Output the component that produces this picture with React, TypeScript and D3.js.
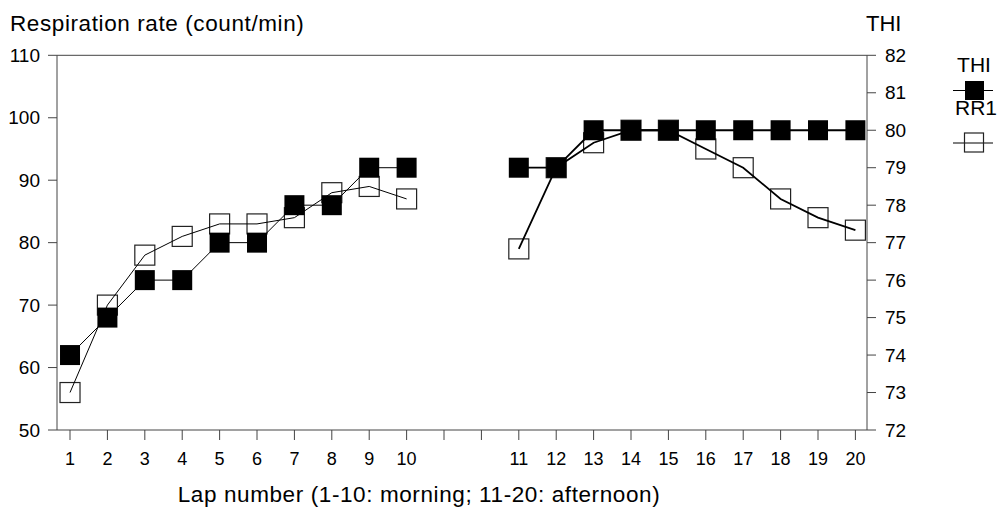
import * as d3 from "d3";

// lap numbers; the axis leaves two empty slots between 10 and 11
const morningLaps = [1, 2, 3, 4, 5, 6, 7, 8, 9, 10];
const afternoonLaps = [11, 12, 13, 14, 15, 16, 17, 18, 19, 20];
const xTickLabels = ["1", "2", "3", "4", "5", "6", "7", "8", "9", "10", "", "", "11", "12", "13", "14", "15", "16", "17", "18", "19", "20"];

// THI (right axis)
const thiMorning = [74, 75, 76, 76, 77, 77, 78, 78, 79, 79];
const thiAfternoon = [79, 79, 80, 80, 80, 80, 80, 80, 80, 80];
// respiration rate RR1 (left axis)
const rrMorning = [56, 70, 78, 81, 83, 83, 84, 88, 89, 87];
const rrAfternoon = [79, 92, 96, 98, 98, 95, 92, 87, 84, 82];

const leftTicks = [50, 60, 70, 80, 90, 100, 110];
const rightTicks = [72, 73, 74, 75, 76, 77, 78, 79, 80, 81, 82];

const font = "'Liberation Sans', Arial, sans-serif";

const App = () => {
  const width = 997;
  const height = 507;
  const left = 57, right = 867, top = 55.3, bottom = 430;

  const slot = (lap: number) => (lap <= 10 ? lap : lap + 2);
  const x = d3.scaleLinear().domain([0.652, 22.31]).range([left, right]);
  const yRR = d3.scaleLinear().domain([50, 110]).range([bottom, top]);
  const yTHI = d3.scaleLinear().domain([72, 82]).range([bottom, top]);

  const rrLine = d3.line<[number, number]>().x(d => x(slot(d[0]))).y(d => yRR(d[1]));
  const thiLine = d3.line<[number, number]>().x(d => x(slot(d[0]))).y(d => yTHI(d[1]));

  const pair = (laps: number[], vals: number[]) => laps.map((l, i) => [l, vals[i]] as [number, number]);
  const rrM = pair(morningLaps, rrMorning);
  const rrA = pair(afternoonLaps, rrAfternoon);
  const thM = pair(morningLaps, thiMorning);
  const thA = pair(afternoonLaps, thiAfternoon);

  const sq = 20;
  const axisColor = "#444";

  return (
    <svg width={width} height={height} style={{ display: "block", position: "absolute", left: 0, top: 0 }} fontFamily={font}>
      <rect width={width} height={height} fill="#fff" />

      {/* titles */}
      <text x={10} y={31} fontSize={22.5} letterSpacing={0.6}>Respiration rate (count/min)</text>
      <text x={866} y={31} fontSize={22}>THI</text>
      <text x={419} y={502} fontSize={22.5} letterSpacing={0.6} textAnchor="middle">Lap number (1-10: morning; 11-20: afternoon)</text>

      {/* frame */}
      <line x1={left} x2={right} y1={top} y2={top} stroke={axisColor} />
      <line x1={left} x2={right} y1={bottom} y2={bottom} stroke={axisColor} />
      <line x1={left} x2={left} y1={top} y2={bottom} stroke={axisColor} />
      <line x1={right} x2={right} y1={top} y2={bottom} stroke={axisColor} />

      {/* left axis */}
      {leftTicks.map(t => (
        <g key={"l" + t}>
          <line x1={left - 9} x2={left} y1={yRR(t)} y2={yRR(t)} stroke={axisColor} />
          <text x={40} y={yRR(t)} dy="0.35em" fontSize={19} textAnchor="end">{t}</text>
        </g>
      ))}

      {/* right axis */}
      {rightTicks.map(t => (
        <g key={"r" + t}>
          <line x1={right} x2={right + 9} y1={yTHI(t)} y2={yTHI(t)} stroke={axisColor} />
          <text x={885} y={yTHI(t)} dy="0.35em" fontSize={19}>{t}</text>
        </g>
      ))}

      {/* bottom axis */}
      {xTickLabels.map((lab, i) => (
        <g key={"x" + i}>
          <line x1={x(i + 1)} x2={x(i + 1)} y1={bottom} y2={bottom + 10} stroke={axisColor} />
          <text x={x(i + 1)} y={465} fontSize={18} textAnchor="middle">{lab}</text>
        </g>
      ))}

      {/* RR1 open squares */}
      {[...rrM, ...rrA].map((d, i) => (
        <rect key={"o" + i} x={x(slot(d[0])) - sq / 2} y={yRR(d[1]) - sq / 2} width={sq} height={sq}
          fill="none" stroke="#222" strokeWidth={1.2} />
      ))}
      <path d={rrLine(rrM) ?? ""} fill="none" stroke="#000" strokeWidth={1} />
      <path d={rrLine(rrA) ?? ""} fill="none" stroke="#000" strokeWidth={1.8} />

      {/* THI */}
      <path d={thiLine(thM) ?? ""} fill="none" stroke="#000" strokeWidth={1} />
      <path d={thiLine(thA) ?? ""} fill="none" stroke="#000" strokeWidth={1.8} />
      {[...thM, ...thA].map((d, i) => (
        <rect key={"f" + i} x={x(slot(d[0])) - sq / 2} y={yTHI(d[1]) - sq / 2} width={sq} height={sq} fill="#000" />
      ))}

      {/* legend */}
      <text x={974} y={72} fontSize={21} textAnchor="middle">THI</text>
      <line x1={953} x2={993} y1={90.5} y2={90.5} stroke="#000" strokeWidth={1.2} />
      <rect x={965} y={81} width={19} height={19} fill="#000" />
      <text x={976} y={115} fontSize={21} textAnchor="middle">RR1</text>
      <line x1={953} x2={993} y1={143} y2={143} stroke="#000" strokeWidth={1.2} />
      <rect x={964.5} y={133} width={19} height={19} fill="none" stroke="#222" strokeWidth={1.2} />
    </svg>
  );
};

export default App;
